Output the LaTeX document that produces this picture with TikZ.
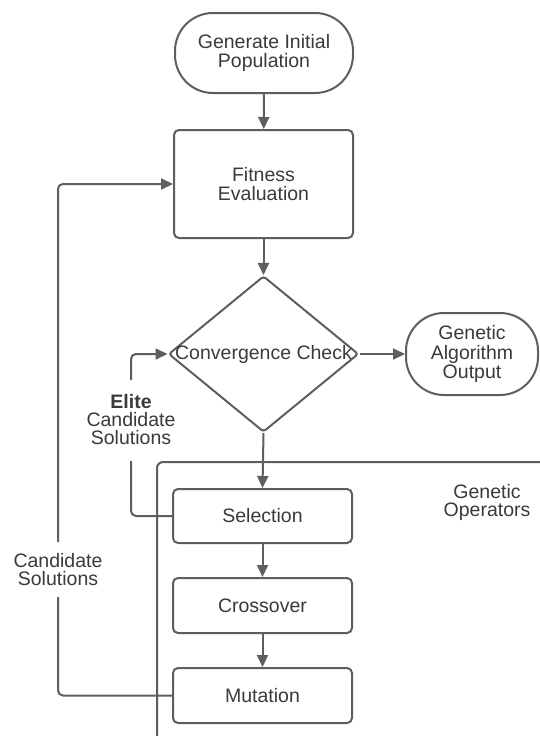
\documentclass[tikz,border=0pt]{standalone}
\usepackage{fontspec}
\setmainfont{Liberation Sans}
\usetikzlibrary{shapes.geometric,arrows.meta}
\definecolor{ln}{HTML}{5E5E5E}
\definecolor{tx}{HTML}{3A3A3A}
\begin{document}
\begin{tikzpicture}[x=1pt,y=-1pt,
  base/.style={draw=ln,line width=2pt,text=tx,align=center,inner sep=0pt,
    font=\fontsize{19.5}{19.5}\selectfont},
  term/.style={base,rounded corners=38pt},
  proc/.style={base,rounded corners=5pt,minimum width=179pt},
  conn/.style={draw=ln,line width=2pt,rounded corners=5pt},
  arr/.style={conn,-{Triangle[length=12pt,width=11pt]}},
  lbl/.style={text=tx,align=center,inner sep=0pt,font=\fontsize{19.5}{18}\selectfont}]
\useasboundingbox (0,0) rectangle (540,736);
\clip (0,0) rectangle (540,736);
\fill[white] (0,0) rectangle (540,736);
% container
\draw[draw=ln,line width=2pt,rounded corners=6pt] (157,462) rectangle (600,800);
\node[lbl] (gop) at (487,502) {Genetic\\Operators};
% nodes
\node[term,minimum width=178pt,minimum height=80pt] (start) at (264,53) {Generate Initial\\Population};
\node[proc,minimum height=108pt] (fit) at (263.5,184) {Fitness\\Evaluation};
\node[draw=ln,line width=2pt,diamond,rounded corners=3pt,minimum width=190pt,minimum height=156pt,inner sep=0pt] (dia) at (263.5,354) {};
\node[lbl] (dtxt) at (263.5,354) {Convergence Check};
\node[term,minimum width=132pt,minimum height=82pt] (out) at (472,354) {Genetic\\Algorithm\\Output};
\node[proc,minimum height=54pt] (sel) at (262.5,516) {Selection};
\node[proc,minimum height=55pt] (cro) at (262.5,605.5) {Crossover};
\node[proc,minimum height=55pt] (mut) at (262.5,695.5) {Mutation};
% main flow
\draw[arr] (start) -- (fit);
\draw[arr] (fit) -- (dia);
\draw[arr] (dia) -- (out);
\draw[arr] (dia.south) -- (sel.north);
\draw[arr] (sel) -- (cro);
\draw[arr] (cro) -- (mut);
% elite loop
\coordinate (e1) at (131,380);
\coordinate (e2) at (131,461);
\node[lbl] (elbl) at (131,420) {\textbf{Elite}\\Candidate\\Solutions};
\draw[arr] (e1) |- (dia.west);
\draw[conn] (e2) |- (sel.west);
% candidate loop
\coordinate (c1) at (58,542);
\coordinate (c2) at (58,597);
\node[lbl] (clbl) at (58,570) {Candidate\\Solutions};
\draw[arr] (c1) |- (fit.west);
\draw[conn] (c2) |- (mut.west);
\end{tikzpicture}
\end{document}
